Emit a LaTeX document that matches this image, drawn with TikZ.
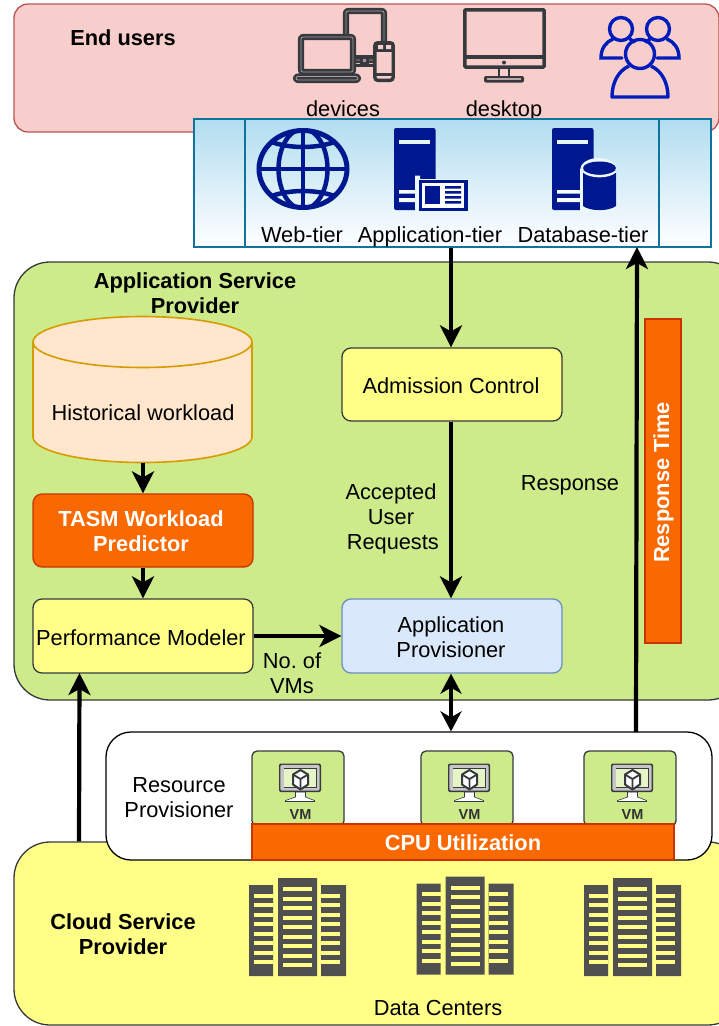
\documentclass[tikz,border=0pt]{standalone}
\usepackage{fontspec}
\setmainfont{Liberation Sans}
\usetikzlibrary{arrows.meta,calc}
\definecolor{pinkF}{HTML}{F8CECC}\definecolor{pinkS}{HTML}{B85450}
\definecolor{greenF}{HTML}{CDEB8B}\definecolor{darkS}{HTML}{36393D}
\definecolor{yelF}{HTML}{FFFF88}\definecolor{oraF}{HTML}{FA6800}\definecolor{oraS}{HTML}{C73500}
\definecolor{bluF}{HTML}{DAE8FC}\definecolor{bluS}{HTML}{6C8EBF}
\definecolor{skyF}{HTML}{B1DDF0}\definecolor{skyS}{HTML}{10739E}
\definecolor{peachF}{HTML}{FFE6CC}\definecolor{peachS}{HTML}{D79B00}
\definecolor{navy}{HTML}{00188F}\definecolor{royal}{HTML}{001DBC}\definecolor{bldg}{HTML}{505050}
\tikzset{
 x=1pt,y=-1pt,
 txt/.style={font=\fontsize{21.8}{25}\selectfont,align=center,inner sep=0pt,text=black,text height=15.6pt,text depth=4.6pt,yshift=-2.5pt},
 btxt/.style={txt,font=\fontsize{21.8}{25}\selectfont\bfseries},
 wtxt/.style={btxt,text=white},
 boxr/.style={rectangle,rounded corners=#1,line width=1.3pt,inner sep=0pt,align=center,font=\fontsize{21.8}{25}\selectfont},
 panel/.style={boxr=36pt,draw=darkS},
 module/.style={boxr=9pt,draw=darkS,fill=yelF},
 ora/.style={rectangle,draw=oraS,fill=oraF,line width=1.3pt,inner sep=0pt},
 vmbox/.style={boxr=5pt,draw=darkS,fill=greenF,minimum width=92pt,minimum height=75pt},
 flow/.style={line width=4.2pt,draw=black,-{Stealth[length=22pt,width=22pt,inset=6pt]}},
 dflow/.style={line width=4.2pt,draw=black,{Stealth[length=20pt,width=21pt,inset=6pt]}-{Stealth[length=20pt,width=21pt,inset=6pt]}},
 ink/.style={draw=darkS,line width=2.7pt,double=gray!60!pinkF,double distance=0.7pt,line join=round},
}
\newcommand{\vmicon}[1]{\begin{scope}[shift={(#1)}]
 % stand
 \fill[white,draw=darkS,line width=.6pt] (-4,-1) -- (6,-1) -- (6,4) -- (15,7.5) -- (15,8.5) -- (-14,8.5) -- (-14,7.5) -- (-4,4) -- cycle;
 \draw[darkS,line width=1.4pt] (-14,8.5) -- (15,8.5);
 % monitor
 \fill[darkS,rounded corners=2pt] (-20.5,-29.5) rectangle (21.5,-1);
 \fill[gray!45!white,rounded corners=1.5pt] (-19.2,-28.2) rectangle (20.2,-2.3);
 \fill[darkS] (-16,-25) rectangle (17,-5.5);
 \fill[greenF!50!white] (-15.2,-24.2) rectangle (16.2,-6.3);
 % cube
 \draw[darkS,line width=2pt,line join=round,fill=white] (1,-23) -- (8.5,-18.5) -- (8.5,-8.5) -- (1,-3.5) -- (-6.5,-8.5) -- (-6.5,-18.5) -- cycle;
 \draw[darkS,line width=1.8pt,line join=round] (-6.5,-18.5) -- (1,-14) -- (8.5,-18.5) (1,-14) -- (1,-3.5);
 \node[inner sep=0pt,font=\fontsize{14.5}{15}\bfseries\selectfont,text=black!80] at (1,21.5) {VM};
\end{scope}}
\newcommand{\building}[1]{\begin{scope}[shift={(#1)}]
 \fill[bldg] (249,885) rectangle (273,976) (278,878) rectangle (317,976) (321,885) rectangle (346,976);
 \foreach \k in {0,...,8} \fill[yelF] (283,{887+9.55*\k}) rectangle (312,{891+9.55*\k});
 \foreach \k in {0,...,7} {
  \fill[yelF] (254,{893.5+9.55*\k}) rectangle (273,{897.5+9.55*\k});
  \fill[yelF] (321,{893.5+9.55*\k}) rectangle (340,{897.5+9.55*\k});}
\end{scope}}
\newcommand{\serverbody}[1]{\begin{scope}[shift={(#1)}]
 \fill[navy,rounded corners=2pt] (0,128) rectangle (41.5,210);
 \fill[skyF!30] (5,140) rectangle (35.5,144);
 \fill[skyF!10] (5,190) rectangle (35,193.5) (5,198) rectangle (35,202);
\end{scope}}
\begin{document}
\begin{tikzpicture}
\useasboundingbox (0,0) rectangle (719,1026);
\clip (0,0) rectangle (719,1026);
% End users
\node[boxr=14pt,draw=pinkS,fill=pinkF,minimum width=705pt,minimum height=128pt] (users) at (366.5,68) {};
\node[btxt] (usersL) at (123,37) {End users};
% devices icon
\draw[ink,fill=pinkF,rounded corners=2pt] (346,11) rectangle (384,60);
\draw[ink,fill=pinkF,rounded corners=2pt] (301,37) rectangle (353,72);
\draw[ink,fill=darkS,rounded corners=2pt] (296,76.5) rectangle (358,80);
\draw[darkS,line width=3pt] (355,56) -- (375,56) (355,65) -- (375,65);
\fill[darkS] (360,56) rectangle (369,65);
\fill[gray!70!pinkF] (363,59) rectangle (366,62);
\draw[darkS,line width=3.4pt,fill=pinkF,rounded corners=3pt] (374.8,42.7) rectangle (393.2,80.3);
\fill[darkS] (375,43) rectangle (393,52);
\fill[pinkF] (378,45) rectangle (383,49) (386,45) rectangle (391,49);
\draw[darkS,line width=3pt] (375,74) -- (393,74);
\node[txt] (devices) at (343,108) {devices};
% desktop icon
\draw[draw=darkS,line width=3.5pt,rounded corners=1pt] (464.8,9.8) rectangle (544.2,67);
\draw[darkS,line width=3.5pt] (464.8,57) -- (544.2,57);
\fill[darkS] (504,62.5) circle (2pt);
\draw[darkS,line width=2.6pt] (499,68) -- (499,76) (509,68) -- (509,76);
\fill[darkS,rounded corners=2pt] (484,76) rectangle (524,82.5);
\fill[gray!50!pinkF] (487,78) rectangle (521,79.5);
\node[txt] (desktop) at (504,108) {desktop};
% people icon
\begin{scope}[draw=royal,line width=3.4pt]
 \draw (621,29) circle (11.5pt);
 \draw (658,29) circle (11.5pt);
 \draw[line cap=round] (622,58) -- (601,58) .. controls (601,48) and (606,42) .. (613,39);
 \draw[line cap=round] (630,39) -- (634,42);
 \draw[line cap=round] (657,58) -- (679,58) .. controls (679,48) and (674,42) .. (667,39);
 \draw[line cap=round] (650,39) -- (646,42);
 \draw (640,54) circle (14.5pt);
 \draw[line join=round] (629,66) .. controls (618,71) and (612,83) .. (612,97) -- (668,97) .. controls (668,83) and (662,71) .. (651,66);
\end{scope}
% tiers box
\node[rectangle,draw=skyS,line width=1.3pt,top color=skyF,bottom color=white,minimum width=517pt,minimum height=128pt,inner sep=0pt] (tiers) at (452.5,183) {};
\draw[skyS,line width=1.3pt] (tiers.north -| 245,0) -- (tiers.south -| 245,0);
\draw[skyS,line width=1.3pt] (tiers.north -| 659,0) -- (tiers.south -| 659,0);
% globe
\begin{scope}
 \draw[navy,line width=5pt] (303,169) ellipse (44pt and 38.5pt);
 \clip (303,169) ellipse (44pt and 38.5pt);
 \draw[navy,line width=4.5pt] (303,169) ellipse (24.5pt and 40pt);
 \draw[navy,line width=4.5pt] (303,125) -- (303,213) (255,169) -- (351,169);
 \draw[navy,line width=4.5pt] (262,138) .. controls (285,150) and (321,150) .. (344,138);
 \draw[navy,line width=4.5pt] (262,200) .. controls (285,188) and (321,188) .. (344,200);
\end{scope}
\node[txt] (web) at (302,234) {Web-tier};
% app server
\serverbody{394,0}
\fill[skyF!25] (415,175.5) -- (420,175.5) -- (420,179) -- (468,179) -- (468,212) -- (415,212) -- cycle;
\fill[navy] (419,180) rectangle (467.5,211);
\fill[white] (422,183) rectangle (464,208);
\fill[navy] (425,186) rectangle (440,204);
\fill[navy] (445,186) rectangle (461,188.5) (445,191) rectangle (461,193.5) (445,196) rectangle (461,198.5) (445,201) rectangle (461,203.5);
\node[txt] (appT) at (430,234) {Application-tier};
% db server
\serverbody{552,0}
\fill[skyF!25] (580,170) arc[start angle=180,end angle=0,x radius=18.5pt,y radius=12pt] -- (617,212) -- (580,212) -- cycle;
\fill[navy] (583,170) -- (583,206) .. controls (590,211.5) and (609,211.5) .. (616,206) -- (616,170) -- cycle;
\fill[navy] (599.5,168) ellipse (16.5pt and 6.5pt);
\fill[skyF!25] (583,170) .. controls (590,176.5) and (609,176.5) .. (616,170) -- (616,172.5) .. controls (609,179) and (590,179) .. (583,172.5) -- cycle;
\node[txt] (dbT) at (583,234) {Database-tier};
% ASP panel
\node[panel,fill=greenF,minimum width=730pt,minimum height=438pt] (asp) at (379,481) {};
\node[btxt] (aspL) at (195,305) {Application Service\\Provider};
% cylinder
\node[rectangle,minimum width=219pt,minimum height=146pt,inner sep=0pt] (hist) at (142.5,389.5) {};
\draw[peachS,fill=peachF,line width=1.6pt] (33,342) .. controls (33,328) and (82,316.5) .. (142.5,316.5) .. controls (203,316.5) and (252,328) .. (252,342) -- (252,437) .. controls (252,451) and (203,462.5) .. (142.5,462.5) .. controls (82,462.5) and (33,451) .. (33,437) -- cycle;
\draw[peachS,line width=1.6pt] (33,342) .. controls (33,356) and (82,367.5) .. (142.5,367.5) .. controls (203,367.5) and (252,356) .. (252,342);
\node[txt] (histL) at (143,412) {Historical workload};
\node[ora,rounded corners=9pt,minimum width=220pt,minimum height=73pt,align=center] (tasm) at (143,530.5) {};
\node[wtxt] (tasmL) at (141,543) {TASM Workload\\Predictor};
\node[module,minimum width=220pt,minimum height=74pt] (perf) at (143,636) {};
\node[txt] (perfL) at (141,637) {Performance Modeler};
\node[module,minimum width=220pt,minimum height=73pt] (adm) at (452,384.5) {};
\node[txt] (admL) at (451,385) {Admission Control};
\node[boxr=9pt,draw=bluS,fill=bluF,minimum width=220pt,minimum height=74pt] (prov) at (452,636) {};
\node[txt] (provL) at (451,649) {Application\\Provisioner};
\node[ora,minimum width=36pt,minimum height=324pt] (rt) at (663,481) {};
\node[wtxt,rotate=90,yshift=2.5pt] (rtL) at (666,480) {Response Time};
\node[txt] (acc) at (391,541.5) {Accepted\\User\\\,Requests};
\node[txt] (respL) at (570,482) {Response};
\node[txt] (vmsL) at (292,685) {No.\ of\\VMs};
% Cloud
\node[panel,fill=yelF,minimum width=730pt,minimum height=183pt] (cloud) at (379,933.5) {};
\node[btxt] (cloudL) at (123,946) {Cloud Service\\Provider};
\node[txt] (dc) at (438,1007) {Data Centers};
\building{0,0}
\building{167.5,-1.5}
\building{335,0}
% Resource provisioner
\node[boxr=25pt,draw=black,fill=white,minimum width=606pt,minimum height=128pt] (res) at (409,796) {};
\node[txt] (resL) at (179,809.5) {Resource\\Provisioner};
\node[vmbox] (vm1) at (298,788.5) {};
\node[vmbox] (vm2) at (467,788.5) {};
\node[vmbox] (vm3) at (630,788.5) {};
\vmicon{299.5,793}
\vmicon{468.5,793}
\vmicon{631.5,793}
\node[ora,minimum width=422pt,minimum height=36pt] (cpu) at (463,842) {};
\node[wtxt] (cpuL) at (463,842) {CPU Utilization};
% connectors
\draw[flow] (tiers.south -| admL) -- (adm.north -| admL);
\draw[flow] (adm.south -| admL) -- (prov.north -| admL);
\draw[dflow] (prov.south -| admL) -- (res.north -| admL);
\coordinate (upS) at (636,732);
\coordinate (upE) at (637,247);
\draw[flow] (upS) -- (upE);
\draw[flow] (hist.south -| histL) -- (tasm.north -| histL);
\draw[flow] (tasm.south -| histL) -- (perf.north -| histL);
\draw[flow] (perf.east) -- (prov.west);
\coordinate (pmIn) at (79.5,673);
\draw[flow] (cloud.north -| 79,0) -- (pmIn);
\end{tikzpicture}
\end{document}
